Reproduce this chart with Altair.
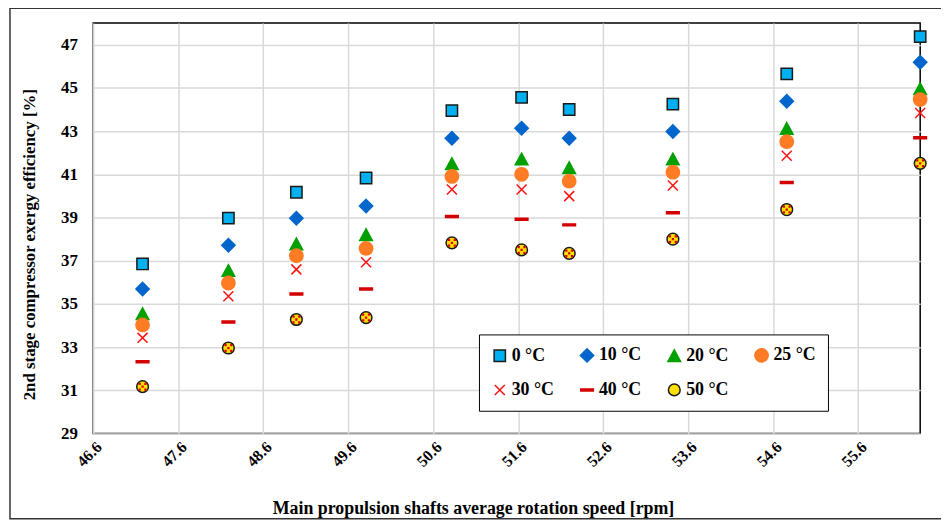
import altair as alt
import pandas as pd

# ---- data ----
speeds = [47.18, 48.19, 48.99, 49.81, 50.82, 51.64, 52.20, 53.42, 54.76, 56.33]
series_names = ["0 °C", "10 °C", "20 °C", "25 °C", "30 °C", "40 °C", "50 °C"]
eff_0 = [36.85, 38.97, 40.17, 40.83, 43.95, 44.56, 44.00, 44.25, 45.65, 47.37]
eff_10 = [35.69, 37.72, 38.97, 39.53, 42.67, 43.13, 42.67, 42.98, 44.38, 46.19]
eff_20 = [34.54, 36.54, 37.77, 38.20, 41.49, 41.70, 41.30, 41.70, 43.12, 44.96]
eff_25 = [34.03, 35.97, 37.23, 37.57, 40.90, 41.00, 40.68, 41.10, 42.51, 44.46]
eff_30 = [33.43, 35.36, 36.60, 36.93, 40.30, 40.30, 39.99, 40.48, 41.86, 43.84]
eff_40 = [32.32, 34.16, 35.46, 35.69, 39.05, 38.92, 38.66, 39.22, 40.62, 42.69]
eff_50 = [31.17, 32.96, 34.28, 34.37, 37.83, 37.50, 37.34, 38.00, 39.37, 41.51]
x_ticks = [46.6, 47.6, 48.6, 49.6, 50.6, 51.6, 52.6, 53.6, 54.6, 55.6]
y_ticks = [29, 31, 33, 35, 37, 39, 41, 43, 45, 47]

all_series = [eff_0, eff_10, eff_20, eff_25, eff_30, eff_40, eff_50]
rows = []
for name, vals in zip(series_names, all_series):
    for s, v in zip(speeds, vals):
        rows.append({"speed": s, "eff": v, "series": name})
df = pd.DataFrame(rows)

# ---- styles ----
fills = ["#00B0F0", "#0066CC", "#00A000", "#FF7C24", "transparent", "#D40000", "#FFE000"]
strokes = ["#1a1a1a", "#0066CC", "#00A000", "#FF7C24", "#FF1010", "#D40000", "#1a1a1a"]
shapes = [
    "M-0.85,-0.85H0.85V0.85H-0.85Z",
    "M0,-1L1,0L0,1L-1,0Z",
    "M0,-0.9L0.95,0.85H-0.95Z",
    "circle",
    "M-0.75,-0.75L0.75,0.75M0.75,-0.75L-0.75,0.75",
    "M-0.95,-0.15H0.95V0.15H-0.95Z",
    "M-0.88,0A0.88,0.88 0 1,0 0.88,0A0.88,0.88 0 1,0 -0.88,0Z",
]
FONT = "Liberation Serif"

leg = alt.Legend(
    title=None, orient="none", legendX=389, legendY=314, columns=4,
    direction="horizontal",
    labelFont=FONT, labelFontWeight="bold", labelFontSize=18, labelColor="black",
    symbolSize=180, symbolStrokeWidth=1.5, labelOffset=3,
    columnPadding=23, rowPadding=16, padding=12,
    strokeColor="black", fillColor="white",
)

xenc = alt.X("speed:Q", scale=alt.Scale(domain=[46.6, 56.33], nice=False, zero=False),
             axis=alt.Axis(values=x_ticks, format=".1f", labelAngle=-45, labelAlign="right",
                           labelBaseline="top", labelPadding=5, ticks=False, domain=False,
                           grid=True, gridColor="#D9D9D9", gridWidth=1.5,
                           labelFont=FONT, labelFontWeight="bold", labelColor="black", labelFontSize=16,
                           title="Main propulsion shafts average rotation speed [rpm]",
                           titleFont=FONT, titleFontWeight="bold", titleFontSize=18, titleColor="black",
                           titleX=383, titleAlign="center",
                           titleY=81, titleBaseline="alphabetic"))
yenc = alt.Y("eff:Q", scale=alt.Scale(domain=[29, 48], nice=False, zero=False),
             axis=alt.Axis(values=y_ticks, ticks=False, domain=False, grid=True,
                           gridColor="#D9D9D9", gridWidth=1.5,
                           labelFont=FONT, labelFontWeight="bold", labelColor="black",
                           labelPadding=16, labelFontSize=17,
                           titleFont=FONT, titleFontWeight="bold", titleFontSize=17, titleColor="black",
                           titlePadding=22, titleY=223, titleAlign="center",
                           title="2nd stage compressor exergy efficiency [%]"))

points = alt.Chart(df).mark_point(filled=True, opacity=1, strokeWidth=1.5, size=180).encode(
    x=xenc, y=yenc,
    fill=alt.Fill("series:N", scale=alt.Scale(domain=series_names, range=fills), legend=leg, sort=series_names),
    stroke=alt.Stroke("series:N", scale=alt.Scale(domain=series_names, range=strokes), legend=leg, sort=series_names),
    shape=alt.Shape("series:N", scale=alt.Scale(domain=series_names, range=shapes), legend=leg, sort=series_names),
)

spots_path = ("M-0.17,-0.17h0.34v0.34h-0.34Z M-0.6,-0.6h0.34v0.34h-0.34Z M0.26,-0.6h0.34v0.34h-0.34Z "
              "M-0.6,0.26h0.34v0.34h-0.34Z M0.26,0.26h0.34v0.34h-0.34Z")
spots = alt.Chart(df[df["series"] == "50 °C"]).mark_point(
    shape=spots_path, filled=True, color="#E00000", opacity=1, size=180, strokeWidth=0
).encode(x="speed:Q", y="eff:Q")

frame = alt.Chart(alt.Data(values=[{"a": 1}])).mark_rect(
    fill="transparent", stroke="#333333", strokeWidth=1.5
).encode(x=alt.value(-84), x2=alt.value(880), y=alt.value(-15), y2=alt.value(500))

chart = alt.layer(frame, points, spots).properties(
    width=834, height=414,
    padding={"left": 86, "top": 13, "right": 21, "bottom": 90},
    autosize=alt.AutoSizeParams(type="none"),
    background="white",
).configure_view(stroke="black", strokeWidth=1.5)

chart.save("out.html", embed_options={"renderer": "svg", "actions": False})
